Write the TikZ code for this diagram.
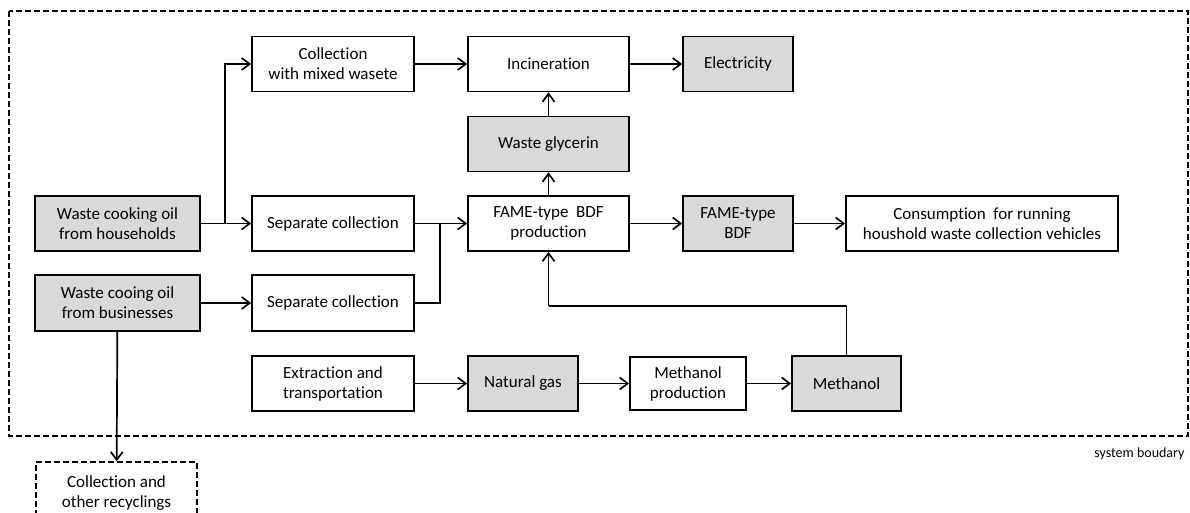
\documentclass[tikz,border=0pt]{standalone}
\usepackage{fontspec}
\setmainfont{Carlito}[Ligatures=NoCommon]
\usepackage{tikz}
\usetikzlibrary{arrows.meta,positioning}
\definecolor{boxgray}{RGB}{217,217,217}
\tikzset{
  box/.style={draw=black,line width=1.8pt,fill=white,align=center,inner sep=2pt,
    font=\fontsize{17}{20}\selectfont,minimum height=55pt},
  prod/.style={box,fill=boxgray},
  flow/.style={line width=1.7pt,-{Straight Barb[length=8pt,width=12pt,line width=1.7pt]}},
  link/.style={line width=1.7pt},
  bound/.style={line width=1.5pt,dash pattern=on 6pt off 3pt}
}
\begin{document}
\begin{tikzpicture}[x=1pt,y=-1pt]
  \useasboundingbox (0,0) rectangle (1190,513);
  % system boundary
  \draw[bound] (9,11) rectangle (1188,436);
  \node[anchor=east,font=\fontsize{14}{16}\selectfont] (sblabel) at (1188,454) {system boudary};
  % upper row
  \node[box,minimum width=162pt] (mixed) at (333,64) {Collection\\with mixed wasete};
  \node[box,minimum width=161pt] (incin) at (548.5,64) {Incineration};
  \node[prod,minimum width=110pt] (elec) at (738,64) {Electricity};
  \node[prod,minimum width=161pt] (glyc) at (548.5,144) {Waste glycerin};
  % households row
  \node[prod,minimum width=165pt] (house) at (117.5,223.5) {Waste cooking oil\\from households};
  \node[box,minimum width=162pt] (sepa) at (333,223.5) {Separate collection};
  \node[box,minimum width=161pt] (fame) at (548.5,223.5) {FAME-type\ \ BDF\\production};
  \node[prod,minimum width=110pt] (bdf) at (738,223.5) {FAME-type\\BDF};
  \node[box,minimum width=272pt] (cons) at (982,223.5) {Consumption\ \ for running\\houshold waste collection vehicles};
  % businesses row
  \node[prod,minimum width=165pt,minimum height=56pt] (busi) at (117.5,303) {Waste cooing oil\\from businesses};
  \node[box,minimum width=162pt,minimum height=56pt] (sepb) at (333,303) {Separate collection};
  % methanol row
  \node[box,minimum width=162pt] (extr) at (333,383.5) {Extraction and\\transportation};
  \node[prod,minimum width=110pt] (gas) at (523,383.5) {Natural gas};
  \node[box,minimum width=116pt,minimum height=53pt] (mprod) at (688,383.5) {Methanol\\production};
  \node[prod,minimum width=109pt] (meoh) at (846.5,383.5) {Methanol};
  % outside the boundary
  \node[box,dash pattern=on 6pt off 3pt,line width=1.5pt,minimum width=161pt,minimum height=62pt] (other) at (116.5,493) {Collection and\\other recyclings};
  % helper points
  \coordinate (split) at (225,223.5);
  \coordinate (join) at (440,223.5);
  \coordinate (feed) at (548.5,306);
  % connectors
  \draw[flow] (house) -- (sepa);
  \draw[flow] (split) |- (mixed);
  \draw[flow] (mixed) -- (incin);
  \draw[flow] (incin) -- (elec);
  \draw[flow] (glyc) -- (incin);
  \draw[flow] (fame) -- (glyc);
  \draw[flow] (sepa) -- (fame);
  \draw[link] (sepb.east) -| (join);
  \draw[flow] (fame) -- (bdf);
  \draw[flow] (bdf) -- (cons);
  \draw[flow] (busi) -- (sepb);
  \draw[flow] (busi) -- (other);
  \draw[flow] (extr) -- (gas);
  \draw[flow] (gas) -- (mprod);
  \draw[flow] (mprod) -- (meoh);
  \draw[link] (meoh.north) |- (feed);
  \draw[flow] (feed) -- (fame.south);
\end{tikzpicture}
\end{document}
